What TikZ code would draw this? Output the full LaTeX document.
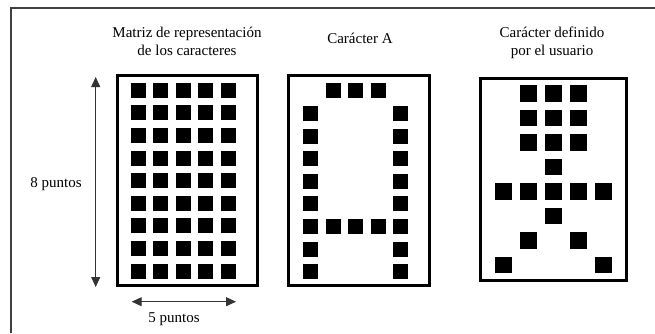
\documentclass[tikz,border=0pt]{standalone}
\usepackage{fontspec}
\setmainfont{Liberation Serif}
\usetikzlibrary{arrows.meta}
\tikzset{
  dot/.style={fill=black},
  gridbox/.style={draw=black, line width=3pt},
  frameline/.style={draw=black!75, line width=1.2pt},
  dimarrow/.style={draw=black!80, line width=1pt, {Triangle[length=10pt,width=9pt]}-{Triangle[length=10pt,width=9pt]}},
  lbl/.style={anchor=base, inner sep=0pt, font=\fontsize{15}{18}\selectfont}
}
\begin{document}
\begin{tikzpicture}[x=1pt,y=-1pt]
\useasboundingbox (0,0) rectangle (655,333);
% outer frame (only top and left visible)
\draw[frameline] (11,333) -- (11,8) -- (655,8);

% titles
\node[lbl] (t1a) at (187,37) {Matriz de representación};
\node[lbl] (t1b) at (187,55) {de los caracteres};
\node[lbl] (t2) at (360,43) {Carácter A};
\node[lbl] (t3a) at (552,37) {Carácter definido};
\node[lbl] (t3b) at (552,55) {por el usuario};

% box 1: full matrix
\draw[gridbox] (117.4,75.4) rectangle (257.8,285.7);
\foreach \r in {0,...,8}
  \foreach \c in {0,...,4}
    \fill[dot] (131+22.4*\c, 82.7+22.6*\r) rectangle ++(15,15);

% box 2: character A
\draw[gridbox] (288.7,75.8) rectangle (429,285.7);
\foreach \c/\r in {1/0,2/0,3/0,
  0/1,4/1, 0/2,4/2, 0/3,4/3, 0/4,4/4, 0/5,4/5,
  0/6,1/6,2/6,3/6,4/6,
  0/7,4/7, 0/8,4/8}
    \fill[dot] (303.3+22.4*\c, 83.3+22.6*\r) rectangle ++(15,15);

% box 3: user-defined character
\draw[gridbox] (480,78.3) rectangle (626.7,280);
\foreach \c/\r in {1/0,2/0,3/0, 1/1,2/1,3/1, 1/2,2/2,3/2,
  2/3, 0/4,1/4,2/4,3/4,4/4, 2/5, 1/6,3/6, 0/7,4/7}
    \fill[dot] (495+25*\c, 85+24.5*\r) rectangle ++(16.5,16.5);

% dimension arrows
\coordinate (vtop) at (95.7,77);
\coordinate (vbot) at (95.7,287);
\coordinate (hl) at (131.7,301.7);
\coordinate (hr) at (236,301.7);
\draw[dimarrow] (vtop) -- (vbot);
\draw[dimarrow] (hl) -- (hr);
\node[lbl] (l8) at (56,187) {8 puntos};
\node[lbl] (l5) at (174,322) {5 puntos};
\end{tikzpicture}
\end{document}
